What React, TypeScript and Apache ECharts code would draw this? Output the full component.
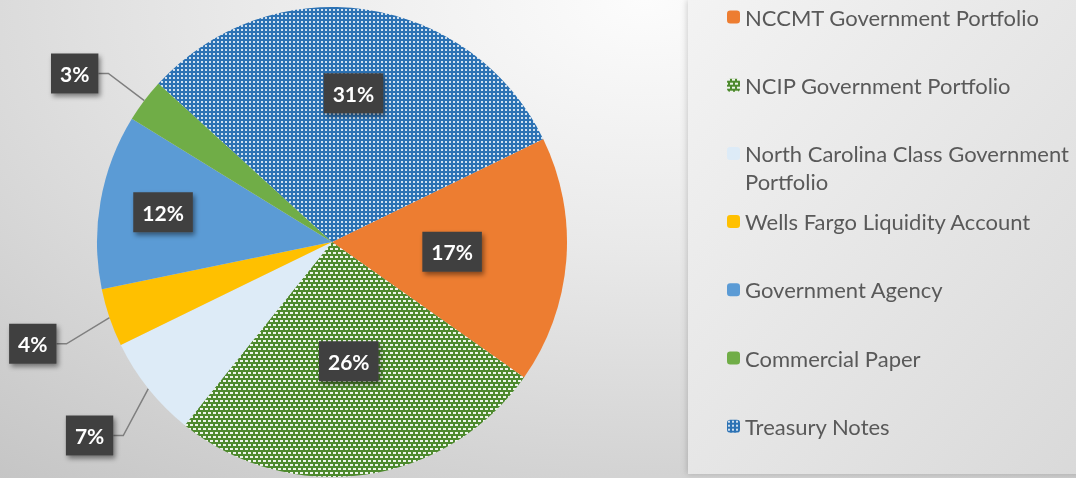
import React, { useEffect, useRef } from 'react';
import * as echarts from 'echarts';

// ---- data ----
const categories = [
  'NCCMT Government Portfolio',
  'NCIP Government Portfolio',
  'North Carolina Class Government Portfolio',
  'Wells Fargo Liquidity Account',
  'Government Agency',
  'Commercial Paper',
  'Treasury Notes',
];
const values = [17, 26, 7, 4, 12, 3, 31];

// ---- styling ----
const sliceColors = ['#ED7D31', '#4E8A2E', '#DDEBF7', '#FFC000', '#5B9BD5', '#70AD47', '#2C72B4'];
const outsideLabelNames = [
  'North Carolina Class Government Portfolio',
  'Wells Fargo Liquidity Account',
  'Commercial Paper',
];
// label distance from centre, as a fraction of the radius (only where it differs from the default)
const labelRadiusFactor: Record<string, number> = {
  'Treasury Notes': 0.64,
  'Government Agency': 0.73,
  'North Carolina Class Government Portfolio': 1.32,
  'Wells Fargo Liquidity Account': 1.345,
};
// pixel tiles for pattern fills: 1 = white dot on the slice colour
const patternTiles: Record<string, number[][]> = {
  'NCIP Government Portfolio': [
    [1, 1, 1, 0, 0],
    [1, 1, 1, 0, 0],
    [0, 0, 0, 0, 0],
    [0, 0, 0, 0, 0],
    [1, 0, 0, 1, 1],
    [1, 0, 0, 1, 1],
    [0, 0, 0, 0, 0],
    [0, 0, 0, 0, 0],
  ],
  'Treasury Notes': [
    [0, 0, 0, 0],
    [0, 1, 1, 0],
    [0, 1, 1, 0],
    [0, 0, 0, 0],
  ],
};
const patternAlpha: Record<string, number> = {
  'NCIP Government Portfolio': 0.9,
  'Treasury Notes': 0.78,
};
const legendWrap: Record<string, string> = {
  'North Carolina Class Government Portfolio': '\nNorth Carolina Class Government\nPortfolio',
};

const W = 1076;
const H = 478;
const CX = 332;
const CY = 242;
const R = 235;
const START = 26;
const LEGEND_X = 727;
const LEGEND_FIRST = 17;
const LEGEND_STEP = 68.2;
const LEGEND_LINE = 28;

function makePattern(base: string, tile: number[][], alpha: number) {
  const h = tile.length;
  const w = tile[0].length;
  const c = document.createElement('canvas');
  c.width = w;
  c.height = h;
  const ctx = c.getContext('2d')!;
  ctx.fillStyle = base;
  ctx.fillRect(0, 0, w, h);
  ctx.fillStyle = `rgba(255,255,255,${alpha})`;
  tile.forEach((row, y) => row.forEach((v, x) => { if (v) ctx.fillRect(x, y, 1, 1); }));
  return { image: c, repeat: 'repeat', imageWidth: w, imageHeight: h } as any;
}

export default function App() {
  const ref = useRef<HTMLDivElement>(null);

  useEffect(() => {
    if (!ref.current) return;
    const chart = echarts.init(ref.current, undefined, { renderer: 'svg' });
    const total = values.reduce((a, b) => a + b, 0);

    const data = categories.map((name, i) => {
      const outside = outsideLabelNames.includes(name);
      const tile = patternTiles[name];
      return {
        name,
        value: values[i],
        itemStyle: {
          color: tile ? makePattern(sliceColors[i], tile, patternAlpha[name]) : sliceColors[i],
        },
        label: { position: outside ? 'outside' : 'inside' },
        labelLine: { show: outside },
      };
    });

    const legends = categories.map((name, i) => ({
      data: [name],
      orient: 'vertical',
      left: LEGEND_X,
      top: LEGEND_FIRST + i * LEGEND_STEP - (legendWrap[name] ? LEGEND_LINE * 1.5 : LEGEND_LINE / 2),
      padding: 0,
      itemWidth: 13,
      itemHeight: 13,
      selectedMode: false,
      formatter: (n: string) => legendWrap[n] || n,
      textStyle: {
        fontFamily: 'Lato',
        fontSize: 22,
        lineHeight: LEGEND_LINE,
        color: '#595959',
      },
    }));

    chart.setOption({
      animation: false,
      backgroundColor: 'transparent',
      graphic: [
        {
          type: 'rect',
          silent: true,
          z: -1,
          shape: { x: 688, y: 0, width: 400, height: 474 },
          style: {
            fill: new echarts.graphic.LinearGradient(0, 0, 1, 1, [
              { offset: 0, color: '#f3f3f3' },
              { offset: 1, color: '#d9d9d9' },
            ]),
            shadowBlur: 6,
            shadowColor: 'rgba(0,0,0,0.18)',
            shadowOffsetX: -1,
          },
        },
      ],
      legend: legends,
      series: [
        {
          type: 'pie',
          center: [CX, CY],
          radius: R,
          startAngle: START,
          clockwise: true,
          avoidLabelOverlap: false,
          data,
          label: {
            formatter: (p: any) => `${p.value}%`,
            color: '#ffffff',
            fontFamily: 'Lato',
            fontWeight: 'bold',
            fontSize: 21,
            lineHeight: 23,
            backgroundColor: '#404040',
            padding: [9, 9, 8, 9],
            shadowColor: 'rgba(0,0,0,0.45)',
            shadowBlur: 5,
            shadowOffsetX: 2,
            shadowOffsetY: 3,
            distanceToLabelLine: 0,
          },
          labelLine: {
            length: 45,
            length2: 10,
            smooth: false,
            lineStyle: { color: '#7f7f7f', width: 1.5 },
          },
          labelLayout: (p: any) => {
            const i = p.dataIndex;
            const f = labelRadiusFactor[categories[i]];
            if (f === undefined) return {};
            const before = values.slice(0, i).reduce((a, b) => a + b, 0);
            const mid = ((before + values[i] / 2) / total) * 360;
            const a = ((START - mid) * Math.PI) / 180;
            return {
              x: CX + f * R * Math.cos(a),
              y: CY - f * R * Math.sin(a),
              align: 'center',
              verticalAlign: 'middle',
            };
          },
          emphasis: { disabled: true },
        },
      ],
    });

    return () => chart.dispose();
  }, []);

  return (
    <div
      style={{
        position: 'fixed',
        left: 0,
        top: 0,
        width: W,
        height: H,
        background:
          'radial-gradient(ellipse 95% 130% at 60% 0%, #fcfcfc 0%, #e9e9e9 40%, #c5c5c5 100%)',
      }}
    >
      <div ref={ref} style={{ width: W, height: H }} />
    </div>
  );
}
